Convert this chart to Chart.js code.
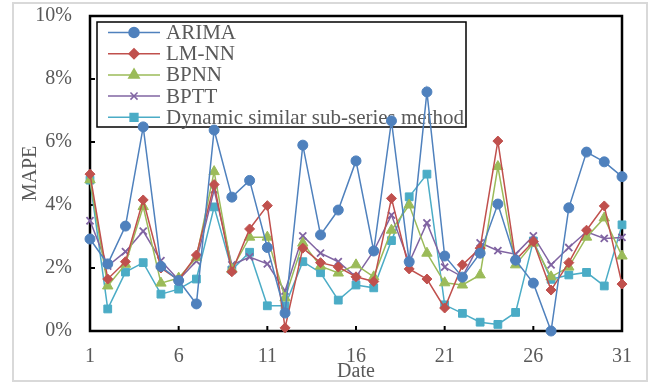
<!DOCTYPE html>
<html>
<head>
<meta charset="utf-8">
<script src="https://cdn.jsdelivr.net/npm/chart.js@4"></script>
<style>
  html, body { margin: 0; padding: 0; background: #fff; }
  #wrap { width: 655px; height: 384px; }
</style>
</head>
<body>
<div id="wrap"><canvas id="mapeChart" width="655" height="384"></canvas></div>
<script>
// dates 1..31
const dates = ['1','2','3','4','5','6','7','8','9','10','11','12','13','14','15','16','17','18','19','20','21','22','23','24','25','26','27','28','29','30','31'];

// MAPE values (%)
const arima = [2.92, 2.13, 3.33, 6.48, 2.05, 1.6, 0.86, 6.38, 4.25, 4.78, 2.65, 0.57, 5.9, 3.05, 3.84, 5.4, 2.54, 6.67, 2.2, 7.59, 2.38, 1.71, 2.47, 4.03, 2.25, 1.52, 0.0, 3.91, 5.68, 5.37, 4.9];
const lmnn = [4.98, 1.65, 2.2, 4.16, 2.0, 1.62, 2.41, 4.65, 1.88, 3.24, 3.98, 0.1, 2.63, 2.17, 2.03, 1.72, 1.57, 4.21, 1.97, 1.65, 0.73, 2.1, 2.63, 6.03, 2.25, 2.84, 1.3, 2.17, 3.2, 3.97, 1.49];
const bpnn = [4.8, 1.43, 2.12, 3.95, 1.52, 1.68, 2.33, 5.06, 1.96, 2.98, 2.98, 1.05, 2.79, 2.06, 1.84, 2.1, 1.72, 3.2, 4.0, 2.47, 1.53, 1.46, 1.78, 5.22, 2.1, 2.79, 1.72, 2.03, 2.98, 3.59, 2.38];
const bptt = [3.5, 2.06, 2.52, 3.17, 2.23, 1.62, 2.22, 4.48, 2.1, 2.35, 2.13, 1.27, 3.02, 2.47, 2.2, 1.72, 2.54, 3.68, 2.17, 3.43, 2.03, 1.72, 2.8, 2.55, 2.44, 3.02, 2.1, 2.65, 3.15, 2.94, 2.97];
const dynamicSS = [4.79, 0.7, 1.87, 2.17, 1.17, 1.33, 1.65, 3.94, 1.94, 2.5, 0.8, 0.8, 2.2, 1.85, 0.98, 1.46, 1.37, 2.87, 4.26, 4.98, 0.83, 0.56, 0.28, 0.21, 0.59, 2.86, 1.64, 1.78, 1.86, 1.43, 3.37];

const yTicks = [0, 2, 4, 6, 8, 10];

const textColor = '#595959';
const serif = '"Liberation Serif", "Times New Roman", serif';

function series(label, data, color, style, radius) {
    return {
        label: label,
        data: data,
        borderColor: color,
        backgroundColor: color,
        borderWidth: 1.5,
        pointStyle: style,
        pointRadius: radius,
        pointBorderWidth: style === 'crossRot' ? 1.8 : 1,
        pointBorderColor: color,
        pointBackgroundColor: color,
        tension: 0,
        clip: false,
    };
}

// frame, inward tick marks, outer grey border and boxed legend (all under the lines)
const decorations = {
    id: 'decorations',
    beforeDatasetsDraw(chart) {
        const ctx = chart.ctx;
        const a = chart.chartArea;
        const x = chart.scales.x;
        const y = chart.scales.y;
        ctx.save();
        ctx.strokeStyle = '#d9d9d9';
        ctx.lineWidth = 2;
        ctx.strokeRect(13, 3, 634, 378);

        ctx.strokeStyle = '#000';
        ctx.lineWidth = 2.5;
        ctx.strokeRect(a.left, a.top, a.right - a.left, a.bottom - a.top);

        ctx.lineWidth = 2;
        yTicks.forEach(v => {
            const py = y.getPixelForValue(v);
            ctx.beginPath();
            ctx.moveTo(a.left, py);
            ctx.lineTo(a.left + 5, py);
            ctx.stroke();
        });
        dates.forEach((d, i) => {
            if (i % 5 !== 0) return;
            const px = x.getPixelForValue(i);
            ctx.beginPath();
            ctx.moveTo(px, a.bottom);
            ctx.lineTo(px, a.bottom - 5);
            ctx.stroke();
        });

        // legend
        const box = { left: 97, top: 22, width: 369, height: 105 };
        ctx.strokeStyle = '#000';
        ctx.lineWidth = 1.5;
        ctx.strokeRect(box.left, box.top, box.width, box.height);

        ctx.font = '21px ' + serif;
        ctx.textBaseline = 'middle';
        chart.data.datasets.forEach((ds, i) => {
            const cy = 32.5 + i * 21.2;
            ctx.strokeStyle = ds.borderColor;
            ctx.lineWidth = 1.5;
            ctx.beginPath();
            ctx.moveTo(108, cy);
            ctx.lineTo(160, cy);
            ctx.stroke();
            ctx.fillStyle = ds.borderColor;
            Chart.helpers.drawPoint(ctx, {
                pointStyle: ds.pointStyle,
                radius: ds.pointRadius,
                rotation: 0,
                borderWidth: ds.pointBorderWidth,
            }, 134, cy);
            ctx.fillStyle = textColor;
            ctx.fillText(ds.label, 166, cy + 1);
        });
        ctx.restore();
    }
};

const ctx = document.getElementById('mapeChart').getContext('2d');
const chart = new Chart(ctx, {
    type: 'line',
    data: {
        labels: dates,
        datasets: [
            series('ARIMA', arima, '#4F81BD', 'circle', 5),
            series('LM-NN', lmnn, '#C0504D', 'rectRot', 5),
            series('BPNN', bpnn, '#9BBB59', 'triangle', 6),
            series('BPTT', bptt, '#8064A2', 'crossRot', 5),
            series('Dynamic similar sub-series method', dynamicSS, '#4BACC6', 'rect', 5.5),
        ],
    },
    options: {
        responsive: false,
        devicePixelRatio: 1,
        animation: false,
        layout: { padding: { left: 0, top: 16, right: 33, bottom: 0 } },
        plugins: {
            legend: { display: false },
            tooltip: { enabled: false },
        },
        scales: {
            x: {
                offset: false,
                grid: { display: false, drawTicks: false },
                border: { display: false },
                ticks: {
                    autoSkip: false,
                    maxRotation: 0,
                    padding: 14,
                    color: textColor,
                    font: { family: serif, size: 20 },
                    callback: (v, i) => (i % 5 === 0 ? dates[i] : ''),
                },
                title: {
                    display: true,
                    text: 'Date',
                    color: textColor,
                    font: { family: serif, size: 20 },
                    padding: { top: 5, bottom: 0 },
                },
                afterFit: s => { s.height = 53; s.paddingLeft = 0; s.paddingRight = 0; },
            },
            y: {
                min: 0,
                max: 10,
                grid: { display: false, drawTicks: false },
                border: { display: false },
                ticks: {
                    stepSize: 2,
                    padding: 18,
                    color: textColor,
                    font: { family: serif, size: 20 },
                    callback: v => v + '%',
                },
                title: {
                    display: true,
                    text: 'MAPE',
                    color: textColor,
                    font: { family: serif, size: 20 },
                    padding: { top: 19, bottom: 0 },
                },
                afterFit: s => { s.width = 90; s.paddingTop = 0; s.paddingBottom = 0; },
            },
        },
    },
    plugins: [decorations],
});
</script>
</body>
</html>
